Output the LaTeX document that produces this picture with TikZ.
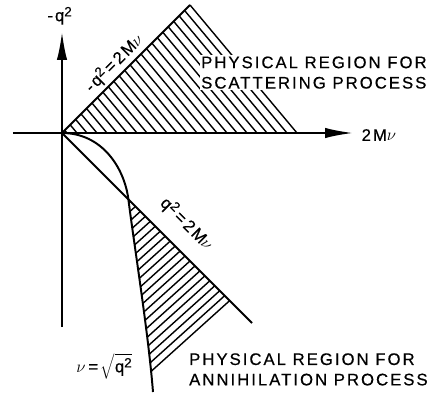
\documentclass[tikz,border=0pt]{standalone}
\usepackage{fontspec}
\setmainfont{Liberation Sans}[LetterSpace=12, FakeBold=0.5]
\usetikzlibrary{arrows.meta}
\newcommand\tsq{\raisebox{0.55ex}{\fontsize{9.5}{9.5}\selectfont 2}}

\begin{document}
\begin{tikzpicture}[>={Latex[length=7mm,width=2.6mm]}, line width=1.4pt,
    font=\fontsize{11.9}{14.5}\selectfont]

    \def\gap{0.25}
    \def\d{0.175}
    \tikzset{hatch/.style={line width=1pt},
        lbl/.style={inner sep=1pt, align=left}}

    \useasboundingbox (-1.55,-6.525) rectangle (9.2,3.325);

    \coordinate (O) at (0,0);
    \coordinate (A) at (3.2,3.2);
    \coordinate (B) at (5.875,0);
    \coordinate (C) at (4.75,-4.75);
    \coordinate (I) at (1.66,-1.66);
    \coordinate (E) at (2.275,-6.475);
    \coordinate (P) at (2.21,-5.975);

    % hatching of the scattering region, parallel to AB
    \foreach \k [evaluate=\k as \xo using 5.875-\gap*\k] in {0,...,23}
        \draw[hatch] (\xo,0) -- ({0.5447*\xo},{0.5447*\xo});

    % hatching of the annihilation region
    \begin{scope}
        \clip (I) .. controls (1.81,-2.85) and (2.155,-4.975) .. (E)
            -- (6.475,-6.475) -- cycle;
        \begin{scope}[shift={(P)}, rotate=42]
            \foreach \k in {0,...,21}
                \draw[hatch] (-4,\k*\d) -- (4,\k*\d);
        \end{scope}
    \end{scope}

    % axes
    \draw[->] (-1.225,0) -- (7.275,0);
    \draw[->] (0,-4.85) -- (0,2.525);

    % the two lines and the curve
    \draw (O) -- (A);
    \draw (O) -- (C);
    \draw (O) .. controls (1.0,0) and (1.56,-0.87) .. (I)
        .. controls (1.81,-2.85) and (2.155,-4.975) .. (E);

    % labels
    \node (yl) at (-0.06,2.93) {-q\tsq};
    \node (xl) [right] at (7.35,-0.05) {2M$\nu$};
    \node (ul) [rotate=45] at (1.3,1.75) {-q\tsq\,=\,2M$\nu$};
    \node (ll) [rotate=-45] at (3.12,-2.27) {q\tsq\,=\,2M$\nu$};
    \node (cl) at (1.05,-5.825) {$\nu$\,=\,$\sqrt{\hbox{q\tsq}}$};
    \node[lbl, fill=white, anchor=west] (sl) at (3.42,1.51)
        {PHYSICAL REGION FOR\\SCATTERING PROCESS};
    \node[lbl, anchor=west] (al) at (3.12,-5.91)
        {PHYSICAL REGION FOR\\ANNIHILATION PROCESS};

\end{tikzpicture}
\end{document}
